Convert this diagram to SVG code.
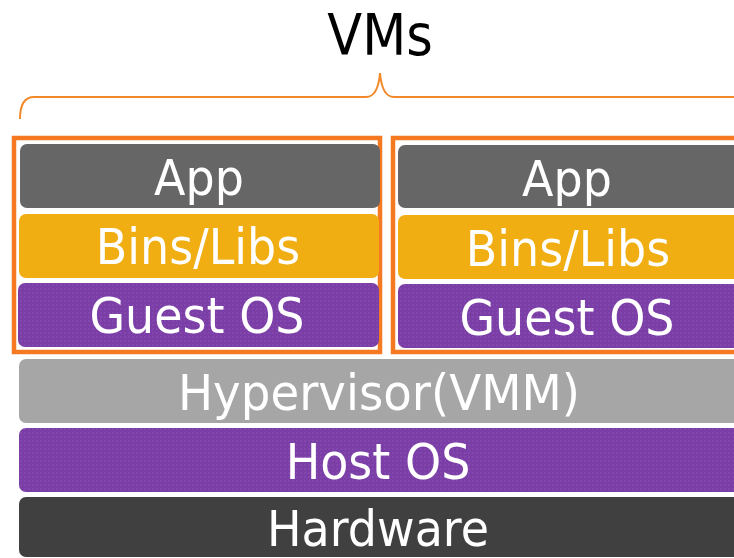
<svg xmlns="http://www.w3.org/2000/svg" width="734" height="558" viewBox="0 0 734 558">
<style>
.lbl{font-family:"DejaVu Sans","Verdana",sans-serif;font-size:46px;fill:#ffffff;text-anchor:middle}
.vm{fill:none;stroke:#F47920;stroke-width:4.5}
.app{fill:#666666}
.bins{fill:#F0AE12}
.os{fill:url(#purp)}
</style>
<defs>
<pattern id="purp" width="4" height="4" patternUnits="userSpaceOnUse">
<rect width="4" height="4" fill="#7A3EA6"/>
<rect width="2" height="2" fill="#8247AC"/>
</pattern>
</defs>
<text transform="translate(380,55) scale(1,1.1)" font-family="DejaVu Sans, Verdana, sans-serif" font-size="51" fill="#000" text-anchor="middle">VMs</text>
<path d="M20,119 Q20,97 34,97 L366,97 Q378,97 380,73 Q382,97 394,97 L734,97" fill="none" stroke="#F28A2C" stroke-width="2"/>
<g id="vm1">
<rect class="vm" x="14" y="138" width="366" height="214"/>
<g id="app1"><rect class="app" x="20" y="144" width="360" height="64" rx="7"/><text class="lbl" transform="translate(199,195) scale(1,1.1)">App</text></g>
<g id="bins1"><rect class="bins" x="19" y="214" width="360" height="64" rx="7"/><text class="lbl" transform="translate(198,264) scale(1,1.1)">Bins/Libs</text></g>
<g id="guest1"><rect class="os" x="18" y="283" width="361" height="64" rx="7"/><text class="lbl" transform="translate(197,333) scale(1,1.1)">Guest OS</text></g>
</g>
<g id="vm2">
<rect class="vm" x="393" y="138" width="360" height="214"/>
<g id="app2"><rect class="app" x="398" y="145" width="350" height="63" rx="7"/><text class="lbl" transform="translate(567,196) scale(1,1.1)">App</text></g>
<g id="bins2"><rect class="bins" x="398" y="215" width="350" height="64" rx="7"/><text class="lbl" transform="translate(568,266) scale(1,1.1)">Bins/Libs</text></g>
<g id="guest2"><rect class="os" x="398" y="284" width="350" height="64" rx="7"/><text class="lbl" transform="translate(567,335) scale(1,1.1)">Guest OS</text></g>
</g>
<g id="hypervisor"><rect fill="#A6A6A6" x="19" y="359" width="730" height="64" rx="7"/><text class="lbl" transform="translate(379,410) scale(1,1.1)" textLength="402" lengthAdjust="spacingAndGlyphs">Hypervisor(VMM)</text></g>
<g id="hostos"><rect class="os" x="19" y="428" width="730" height="64" rx="7"/><text class="lbl" transform="translate(378,479) scale(1,1.1)">Host OS</text></g>
<g id="hardware"><rect fill="#404040" x="19" y="497" width="730" height="60" rx="7"/><text class="lbl" transform="translate(378,546) scale(1,1.1)">Hardware</text></g>
</svg>
